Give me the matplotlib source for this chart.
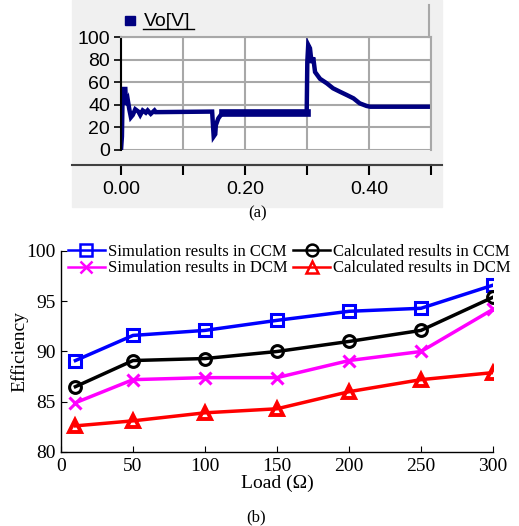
import matplotlib
matplotlib.use("Agg")
import matplotlib.pyplot as plt
from matplotlib.patches import Rectangle
from matplotlib.lines import Line2D

# (a) output voltage waveform
t_vo = [0.0, 0.0015, 0.0027, 0.007, 0.008, 0.011, 0.0134, 0.016, 0.019, 0.023,
        0.028, 0.031, 0.035, 0.040, 0.043, 0.048, 0.054, 0.056, 0.147, 0.148,
        0.1495, 0.152, 0.153, 0.157, 0.161, 0.165, 0.2995, 0.3005, 0.302, 0.3048,
        0.306, 0.3075, 0.310, 0.313, 0.321, 0.332, 0.342, 0.353, 0.364, 0.375,
        0.385, 0.396, 0.402, 0.5]
v_vo = [0, 12, 54, 54, 40, 44, 36, 29, 31, 36,
        34, 31, 35, 33, 35, 32, 35, 33.5, 34, 25,
        12, 14, 22, 28, 31, 32.5, 32.5, 78, 93, 90,
        84, 77, 82, 69, 63, 59, 54.6, 51.6, 48.7, 45.7,
        41.3, 39, 38.3, 38.3]
t_ticks = [0.0, 0.1, 0.2, 0.3, 0.4, 0.5]
t_labels = ["0.00", "", "0.20", "", "0.40", ""]
v_ticks = [0, 20, 40, 60, 80, 100]

# (b) efficiency vs load
load = [10, 50, 100, 150, 200, 250, 300]
sim_ccm = [89.1, 91.6, 92.1, 93.1, 94.0, 94.3, 96.6]
calc_ccm = [86.5, 89.1, 89.3, 90.0, 91.0, 92.1, 95.4]
sim_dcm = [84.9, 87.2, 87.4, 87.4, 89.1, 90.0, 94.2]
calc_dcm = [82.6, 83.1, 83.9, 84.3, 86.0, 87.2, 87.9]

W, H = 519, 526
fig = plt.figure(figsize=(W / 100, H / 100), dpi=100)


def fx(px):
    return px / W


def fy(py):
    return 1 - py / H


# ---------- panel (a) ----------
bg = Rectangle((fx(72), fy(207)), fx(442 - 72), 207 / H,
               transform=fig.transFigure, color="#f0f0f0", zorder=-5)
fig.add_artist(bg)
ax1 = fig.add_axes([fx(121), fy(150), fx(431 - 121), 113 / H])
ax1.set_facecolor("white")
ax1.plot(t_vo, v_vo, color="#000080", lw=3.2, solid_joinstyle="miter")
ax1.plot(t_vo[25:27], v_vo[25:27], color="#000080", lw=5.5)
ax1.set_xlim(0, 0.5)
ax1.set_ylim(0, 100)
ax1.set_xticks(t_ticks)
ax1.set_xticklabels(t_labels)
ax1.set_yticks(v_ticks)
ax1.grid(True, color="#a8a8a8", lw=1.5)
ax1.set_axisbelow(True)
for s in ["top", "right"]:
    ax1.spines[s].set_color("#a8a8a8")
    ax1.spines[s].set_linewidth(1.5)
ax1.spines["left"].set_color("black")
ax1.spines["left"].set_linewidth(1.5)
ax1.spines["bottom"].set_position(("outward", 11))
ax1.spines["bottom"].set_color("#404040")
ax1.spines["bottom"].set_linewidth(1.5)
ax1.tick_params(axis="y", direction="out", length=5, width=1.2, pad=3,
                labelsize=14, colors="black")
ax1.tick_params(axis="x", direction="out", length=7, width=1.5, pad=4,
                labelsize=14, colors="black")
for lab in ax1.get_xticklabels() + ax1.get_yticklabels():
    lab.set_family("Liberation Sans")
fig.add_artist(Line2D([fx(72), fx(442)], [fy(165), fy(165)],
                      color="#404040", lw=1.5, transform=fig.transFigure))
fig.add_artist(Line2D([fx(429), fx(429)], [fy(5), fy(37)],
                      color="#a8a8a8", lw=1.5, transform=fig.transFigure))
# legend "Vo[V]"
fig.add_artist(Rectangle((fx(125), fy(25)), fx(10), 9 / H, color="#000080",
                         transform=fig.transFigure))
fig.text(fx(144), fy(21), "Vo[V]", family="Liberation Sans", fontsize=14,
         va="center", ha="left")
fig.add_artist(Line2D([fx(143), fx(194)], [fy(29), fy(29)],
                      color="black", lw=1, transform=fig.transFigure))
fig.text(fx(258), fy(213), "(a)", family="Liberation Serif", fontsize=12,
         ha="center", va="center")

# ---------- panel (b) ----------
serif = "Liberation Serif"
ax2 = fig.add_axes([fx(61), fy(452), fx(493 - 61), 201 / H])
ax2.plot(load, sim_ccm, color="#0000ff", lw=2.5, marker="s", ms=8, mfc="none",
         mew=2.2, label="Simulation results in CCM")
ax2.plot(load, calc_ccm, color="black", lw=2.5, marker="o", ms=8.5, mfc="none",
         mew=2.2, label="Calculated results in CCM")
ax2.plot(load, sim_dcm, color="#ff00ff", lw=2.5, marker="x", ms=9,
         mew=2.2, label="Simulation results in DCM")
ax2.plot(load, calc_dcm, color="#ff0000", lw=2.5, marker="^", ms=9, mfc="none",
         mew=2.8, label="Calculated results in DCM")
ax2.set_xlim(0, 300)
ax2.set_ylim(80, 100)
ax2.set_xticks([0, 50, 100, 150, 200, 250, 300])
ax2.set_yticks([80, 85, 90, 95, 100])
for s in ["top", "right"]:
    ax2.spines[s].set_visible(False)
for s in ["left", "bottom"]:
    ax2.spines[s].set_linewidth(1)
ax2.tick_params(direction="in", length=4, labelsize=14, pad=4)
for lab in ax2.get_xticklabels() + ax2.get_yticklabels():
    lab.set_family(serif)
ax2.set_xlabel("Load (Ω)", family=serif, fontsize=14, labelpad=0)
ax2.set_ylabel("Efficiency", family=serif, fontsize=14)
ax2.yaxis.set_label_coords(-0.075, 0.5)

h, l = ax2.get_legend_handles_labels()
order = [0, 2, 1, 3]
leg = fig.legend([h[i] for i in order], [l[i] for i in order], ncol=2,
                 loc="upper left", bbox_to_anchor=(fx(68), fy(244)),
                 frameon=False, prop={"family": serif, "size": 12},
                 handlelength=2.2, handletextpad=0.2, columnspacing=0.35,
                 labelspacing=0.02, borderpad=0, borderaxespad=0)
for hl in leg.legend_handles:
    hl.set_linewidth(1.8)
    hl.set_markeredgewidth(1.8)

fig.text(fx(256), fy(517), "(b)", family=serif, fontsize=12,
         ha="center", va="center")

fig.savefig("out.png", dpi=100)
